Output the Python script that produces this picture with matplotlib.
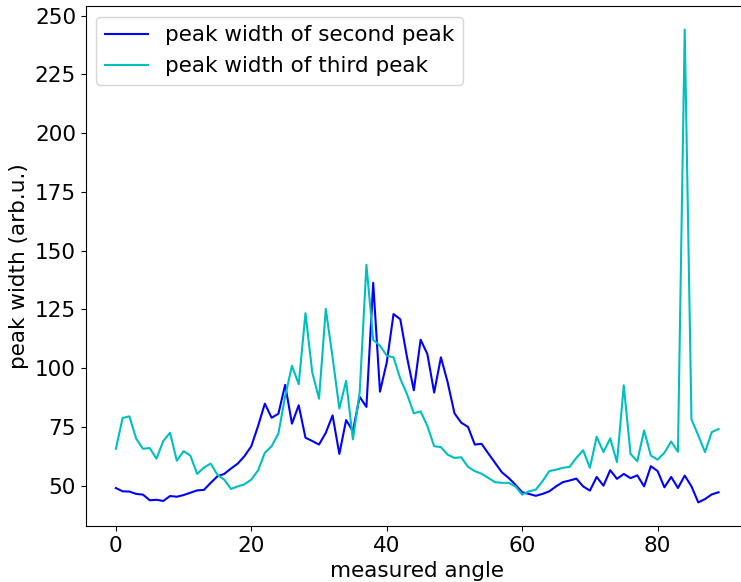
import numpy as np
import matplotlib
matplotlib.use("Agg")
import matplotlib.pyplot as plt

# measured angle index
angle = np.arange(90)

# fitted widths of the second peak
width_second = [49.0, 47.6, 47.5, 46.5, 46.2, 43.8, 44.0, 43.5, 45.6, 45.3,
                46.0, 47.0, 48.0, 48.2, 51.2, 54.0, 55.0, 57.3, 59.4, 62.6,
                66.8, 75.4, 84.9, 78.9, 80.6, 92.9, 76.4, 84.2, 70.4, 69.0,
                67.5, 72.5, 79.9, 63.5, 77.9, 73.2, 87.8, 83.5, 136.3, 90.0,
                102.4, 123.0, 120.8, 104.5, 90.6, 112.1, 106.0, 89.6, 104.6, 93.9,
                80.8, 76.8, 75.0, 67.5, 67.8, 63.7, 59.7, 55.7, 53.3, 50.4,
                47.2, 46.5, 45.7, 46.5, 47.6, 49.7, 51.5, 52.2, 53.0, 49.7,
                47.9, 53.7, 50.0, 56.6, 52.9, 55.0, 53.2, 54.4, 49.7, 58.3,
                56.2, 49.3, 53.7, 49.0, 54.3, 49.7, 42.9, 44.3, 46.3, 47.2]

# fitted widths of the third peak
width_third = [65.7, 78.8, 79.5, 70.0, 65.7, 66.0, 61.5, 69.0, 72.5, 60.6,
               64.7, 62.8, 55.0, 57.7, 59.4, 54.6, 52.6, 48.6, 49.7, 50.6,
               52.6, 56.5, 64.0, 66.8, 72.2, 88.0, 101.0, 93.2, 123.4, 98.2,
               87.0, 125.2, 104.6, 82.8, 94.6, 69.7, 89.6, 144.0, 112.0, 109.6,
               105.3, 104.6, 95.5, 88.9, 80.8, 81.6, 75.4, 66.8, 66.4, 63.2,
               61.8, 62.1, 58.0, 56.2, 55.1, 53.3, 51.5, 51.2, 51.2, 49.7,
               46.2, 47.6, 48.3, 51.9, 56.2, 56.8, 57.6, 58.0, 61.8, 65.1,
               57.6, 70.8, 64.3, 70.1, 60.0, 92.7, 63.5, 60.4, 73.5, 62.8,
               61.1, 64.0, 68.8, 64.4, 244.0, 78.2, 71.4, 64.3, 72.8, 74.1]

plt.rcParams['font.size'] = 15.5

fig = plt.figure(figsize=(7.41, 5.82), dpi=100)
# axes run slightly past the right edge of the canvas
ax = fig.add_axes([0.1157, 0.0962, 0.8947, 0.8935])

ax.plot(angle, width_second, 'b', label='peak width of second peak')
ax.plot(angle, width_third, 'c', label='peak width of third peak')

ax.set_xlabel('measured angle')
ax.set_ylabel('peak width (arb.u.)')
ax.set_yticks(np.arange(50, 251, 25))
ax.legend(loc='upper left')

fig.savefig('out.png', dpi=100)
